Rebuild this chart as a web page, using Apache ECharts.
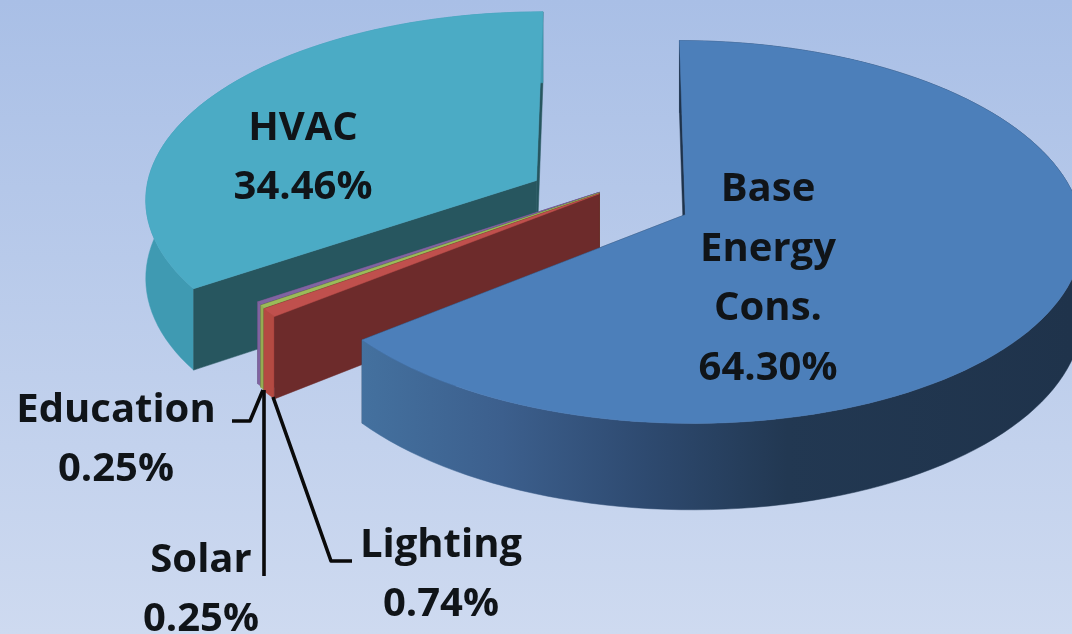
<!DOCTYPE html>
<html>
<head>
<meta charset="utf-8">
<style>html,body{margin:0;padding:0;overflow:hidden}#chart{width:1072px;height:634px}</style>
<script src="https://cdn.jsdelivr.net/npm/echarts@6/dist/echarts.min.js"></script>
</head>
<body>
<div id="chart"></div>
<script>
// Slices are listed counter-clockwise from 12 o'clock, which is also back-to-front.
const categories = ['HVAC', 'Education', 'Solar', 'Lighting', 'Base\nEnergy\nCons.'];
const shares = [34.46, 0.25, 0.25, 0.74, 64.30];

// Projection of the tilted pie plane onto the page.
const view = { cx: 615, cy: 199, rx: 392, ry: 187, persp: 0.09, depth: 78 };

// Per-slice look: explode offset in pie-plane units, face colours, label and leader line.
const sliceStyle = [
  { ex: -0.202, ey: -0.10, top: '#4babc5', outer: '#3f9ab2', radial: '#27565f',
    label: [303, 158], leader: null },
  { ex: -0.040, ey: -0.036, top: '#8064a2', outer: '#8064a2', radial: '#4d3c62',
    label: [116, 440], leader: [[232, 421], [250, 421], [263, 390]] },
  { ex: -0.040, ey: -0.032, top: '#9bbb59', outer: '#94ad52', radial: '#5d7035',
    label: [201, 590], leader: [[264, 576], [264, 390]] },
  { ex: -0.040, ey: -0.028, top: '#c0504d', outer: '#b44a42', radial: '#6d2b2b',
    label: [441, 575], leader: [[352, 561], [331, 561], [273, 397]] },
  { ex: 0.178, ey: 0.083, top: '#4c7fba',
    outer: { type: 'linear', x: 360, y: 0, x2: 1072, y2: 0, global: true, colorStops: [
      { offset: 0, color: '#44719f' }, { offset: 0.2, color: '#3c5f8d' },
      { offset: 0.4, color: '#2e4a70' }, { offset: 0.6, color: '#223852' }, { offset: 1, color: '#1f334b' }] },
    radial: '#1f334b', label: [768, 279], leader: null }
];

function project(wx, wy, lift) {
  const s = 1 / (1 - view.persp * wy);
  return [view.cx + wx * view.rx * s, view.cy + wy * view.ry * s + lift * s];
}

function renderSlice(params, api) {
  const i = params.dataIndex;
  const st = sliceStyle[i];
  const total = shares.reduce((a, b) => a + b, 0);
  let before = 0;
  for (let k = 0; k < i; k++) before += shares[k];
  const a1 = 360 - (before / total) * 360;
  const a0 = a1 - (api.value(0) / total) * 360;

  const at = (deg, r, lift) => {
    const t = deg * Math.PI / 180;
    return project(st.ex + r * Math.sin(t), st.ey - r * Math.cos(t), lift);
  };
  const steps = Math.max(4, Math.ceil((a1 - a0) / 2));
  const arcTop = [], arcBottom = [];
  for (let k = 0; k <= steps; k++) {
    const d = a0 + (a1 - a0) * k / steps;
    arcTop.push(at(d, 1, 0));
    arcBottom.push(at(d, 1, view.depth));
  }
  const base = i * 10;
  const face = (points, fill, z2) => ({
    type: 'polygon', z2, shape: { points },
    style: { fill, stroke: fill, lineWidth: 0.5 }
  });
  const wall = d => [at(d, 0, 0), at(d, 1, 0), at(d, 1, view.depth), at(d, 0, view.depth)];

  const children = [
    face(wall(a1), st.radial, base + 1),
    face(arcTop.concat(arcBottom.slice().reverse()), st.outer, base + 2),
    face(wall(a0), st.radial, base + 3),
    face([at(0, 0, 0)].concat(arcTop), st.top, base + 4)
  ];
  if (st.leader) {
    children.push({
      type: 'polyline', z2: 200, shape: { points: st.leader },
      style: { stroke: '#0a0a0a', lineWidth: 3.6, fill: null, lineJoin: 'round' }
    });
  }
  children.push({
    type: 'text', z2: 210,
    style: {
      text: categories[i] + '\n' + api.value(0).toFixed(2) + '%',
      x: st.label[0], y: st.label[1], align: 'center', verticalAlign: 'middle',
      fill: '#101418', fontFamily: 'Open Sans', fontWeight: 'bold', fontSize: 40, lineHeight: 59.5
    }
  });
  return { type: 'group', children };
}

const chart = echarts.init(document.getElementById('chart'), null, { renderer: 'canvas' });
chart.setOption({
  animation: false,
  backgroundColor: {
    type: 'linear', x: 0, y: 0, x2: 0, y2: 1,
    colorStops: [{ offset: 0, color: '#a9bfe6' }, { offset: 1, color: '#cedaf0' }]
  },
  series: [{
    type: 'custom',
    coordinateSystem: 'none',
    silent: true,
    renderItem: renderSlice,
    data: shares.map(v => [v])
  }]
});
</script>
</body>
</html>
